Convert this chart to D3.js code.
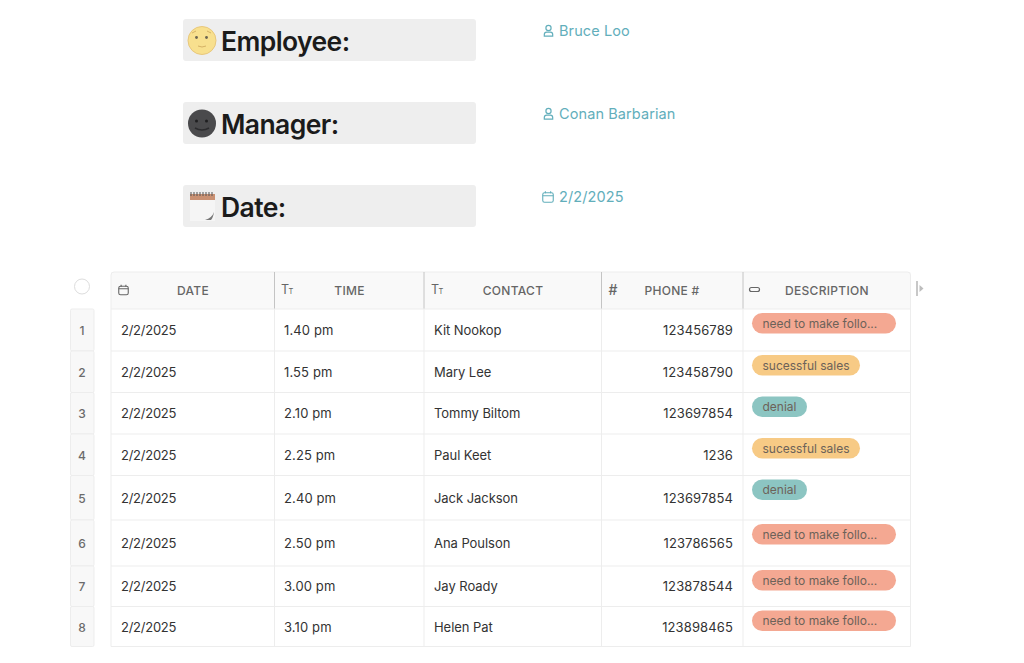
<!DOCTYPE html>
<html><head><meta charset="utf-8">
<script src="https://cdn.jsdelivr.net/npm/d3@7"></script>
<style>html,body{margin:0;padding:0;background:#fff}svg{display:block}text{font-family:Inter,"Noto Sans",sans-serif}</style>
</head><body><svg id="c" width="1024" height="663"></svg>
<script>
// ---- data
const headings = ["Employee:", "Manager:", "Date:"];
const headingValues = ["Bruce Loo", "Conan Barbarian", "2/2/2025"];
const columns = ["DATE", "TIME", "CONTACT", "PHONE #", "DESCRIPTION"];
const dates = ["2/2/2025","2/2/2025","2/2/2025","2/2/2025","2/2/2025","2/2/2025","2/2/2025","2/2/2025"];
const times = ["1.40 pm","1.55 pm","2.10 pm","2.25 pm","2.40 pm","2.50 pm","3.00 pm","3.10 pm"];
const contacts = ["Kit Nookop","Mary Lee","Tommy Biltom","Paul Keet","Jack Jackson","Ana Poulson","Jay Roady","Helen Pat"];
const phones = ["123456789","123458790","123697854","1236","123697854","123786565","123878544","123898465"];
const descriptions = ["need to make follo...","sucessful sales","denial","sucessful sales","denial","need to make follo...","need to make follo...","need to make follo..."];

// ---- layout
const colEdges = [111, 274.5, 424, 601.5, 743, 910.5];
const rowEdges = [309, 351, 392.5, 434, 475.5, 520, 566, 606.5, 646.5];
const headTop = 272;
const headerLabelX = [193, 349.5, 513, 672, 827];
const pillStyle = {
  "need to make follo...": {fill:"#f4a892", w:144},
  "sucessful sales": {fill:"#f7ca85", w:108},
  "denial": {fill:"#8cc5c2", w:55}
};
const svg = d3.select("#c");
const rows = d3.range(dates.length);
const rowIndex = d3.scaleOrdinal(rows, rowEdges.slice(0,-1));
const rowBottom = d3.scaleOrdinal(rows, rowEdges.slice(1));
const rowMid = i => (rowIndex(i)+rowBottom(i))/2;
const blockY = d3.scalePoint().domain(headings).range([19, 185]);
const line = "#ededed";

// ---- top blocks
const blocks = svg.selectAll("g.block").data(headings).join("g")
  .attr("transform", d=>`translate(0,${blockY(d)})`);
blocks.append("rect").attr("x",183).attr("width",293).attr("height",42).attr("rx",3).attr("fill","#eeeeee");
blocks.append("text").attr("x",221).attr("y",31.5).attr("font-size",26.5).attr("font-weight",600)
  .attr("letter-spacing",-0.6).attr("fill","#1b1b1b").text(d=>d);
blocks.append("text").attr("x",559).attr("y",17).attr("font-size",14.5).attr("letter-spacing",0.1)
  .attr("fill","#62aebb").text((d,i)=>headingValues[i]);

// icons in heading values
function person(g,x,y,c){
  g.append("circle").attr("cx",x).attr("cy",y-3).attr("r",2.6).attr("fill","none").attr("stroke",c).attr("stroke-width",1.2);
  g.append("path").attr("d",`M${x-4.2} ${y+5.2}v-1.6q0-2.4 2.4-2.4h3.6q2.4 0 2.4 2.4v1.6z`).attr("fill","none").attr("stroke",c).attr("stroke-width",1.2);
}
function cal(g,x,y,c,w=10.5,h=9.5){
  g.append("rect").attr("x",x-w/2).attr("y",y-h/2+.5).attr("width",w).attr("height",h).attr("rx",1.8).attr("fill","none").attr("stroke",c).attr("stroke-width",1.1);
  g.append("path").attr("d",`M${x-w/2} ${y-1.2}h${w}M${x-w/4} ${y-h/2-1}v2M${x+w/4} ${y-h/2-1}v2`).attr("stroke",c).attr("stroke-width",1.1);
}
blocks.each(function(d,i){
  const g=d3.select(this);
  if(i<2) person(g,548.5,12,"#62aebb"); else cal(g,548,12,"#62aebb");
  // emoji-like icons
  if(i===0){
    g.append("circle").attr("cx",202).attr("cy",21.5).attr("r",14).attr("fill","#f8e08e").attr("stroke","#e8c77c");
    g.append("circle").attr("cx",196.5).attr("cy",18.5).attr("r",1.4).attr("fill","#6a6350");
    g.append("circle").attr("cx",206.5).attr("cy",18.5).attr("r",1.4).attr("fill","#6a6350");
    g.append("path").attr("d","M198 27q4 2 8 0M192 14l4-2M211 14l-4-2").attr("fill","none").attr("stroke","#d5b265").attr("stroke-width",1);
  } else if(i===1){
    g.append("circle").attr("cx",202).attr("cy",21.5).attr("r",14).attr("fill","#4a4a4c");
    g.append("circle").attr("cx",196.5).attr("cy",19).attr("r",1.5).attr("fill","#1f1f20");
    g.append("circle").attr("cx",206.5).attr("cy",19).attr("r",1.5).attr("fill","#1f1f20");
    g.append("path").attr("d","M195 26q7 4 14 0").attr("fill","none").attr("stroke","#2c2c2e").attr("stroke-width",1.5);
  } else {
    g.append("rect").attr("x",190).attr("y",9).attr("width",25).attr("height",27).attr("fill","#f5f5f5");
    g.append("rect").attr("x",190).attr("y",9).attr("width",25).attr("height",6).attr("fill","#c99072");
    g.append("path").attr("d","M191 7v4M194 7v4M197 7v4M200 7v4M203 7v4M206 7v4M209 7v4M212 7v4").attr("stroke","#555").attr("stroke-width",1);
    g.append("path").attr("d","M205 35q7-2 9-8q-1 6-3 8z").attr("fill","#777");
  }
});

// ---- table header
svg.append("rect").attr("x",colEdges[0]).attr("y",headTop).attr("width",colEdges[5]-colEdges[0]).attr("height",rowEdges[0]-headTop).attr("fill","#f9f9f9");
svg.append("path").attr("d",`M${colEdges[0]} ${rowEdges[8]}V${headTop+3}q0-3 3-3H${colEdges[5]-3}q3 0 3 3V${rowEdges[8]}`).attr("fill","none").attr("stroke",line);
svg.selectAll("text.col").data(columns).join("text").attr("class","col")
  .attr("x",(d,i)=>headerLabelX[i]).attr("y",294.5).attr("text-anchor","middle")
  .attr("font-size",12).attr("font-weight",500).attr("letter-spacing",0.3).attr("fill","#666").text(d=>d);
// header separators
svg.selectAll("line.hsep").data(colEdges.slice(1,-1)).join("line")
  .attr("x1",d=>d).attr("x2",d=>d).attr("y1",headTop).attr("y2",rowEdges[0]).attr("stroke","#c4c4c4");
// header icons
const ic="#666";
cal(svg,123.5,290,ic,9.5,8.5);
[286,436].forEach(x=>{
  svg.append("text").attr("x",x-5).attr("y",294).attr("font-size",12.5).attr("fill",ic).text("T");
  svg.append("text").attr("x",x+2.5).attr("y",294).attr("font-size",7.5).attr("fill",ic).text("T");
});
svg.append("text").attr("x",613).attr("y",294.5).attr("text-anchor","middle").attr("font-size",14).attr("font-weight",500).attr("fill",ic).text("#");
svg.append("rect").attr("x",749.5).attr("y",287.5).attr("width",10).attr("height",4).attr("rx",2).attr("fill","none").attr("stroke",ic).attr("stroke-width",1.2);
svg.append("rect").attr("x",916).attr("y",281).attr("width",2).attr("height",15).attr("fill","#c8c8c8");
svg.append("path").attr("d","M919.5 285l4 3.5l-4 3.5z").attr("fill","#bdbdbd");
svg.append("circle").attr("cx",82).attr("cy",286.5).attr("r",7.5).attr("fill","#fff").attr("stroke","#dddddd");

// ---- row number gutter
svg.selectAll("rect.num").data(rows).join("rect").attr("class","num")
  .attr("x",70.5).attr("y",i=>rowIndex(i)).attr("width",23.5).attr("height",i=>rowBottom(i)-rowIndex(i))
  .attr("rx",1.5).attr("fill","#f8f8f8").attr("stroke",line);
svg.selectAll("text.num").data(rows).join("text").attr("class","num")
  .attr("x",82).attr("y",i=>rowMid(i)+5).attr("text-anchor","middle").attr("font-size",12).attr("font-weight",500).attr("fill","#6b6b6b").text(i=>i+1);

// ---- grid
svg.selectAll("line.rowl").data(rows).join("line").attr("class","rowl")
  .attr("x1",colEdges[0]).attr("x2",colEdges[5]).attr("y1",i=>rowBottom(i)).attr("y2",i=>rowBottom(i)).attr("stroke",line);
svg.append("line").attr("x1",colEdges[0]).attr("x2",colEdges[5]).attr("y1",rowEdges[0]).attr("y2",rowEdges[0]).attr("stroke",line);
svg.selectAll("line.coll").data(colEdges.slice(1,-1)).join("line").attr("class","coll")
  .attr("x1",d=>d).attr("x2",d=>d).attr("y1",rowEdges[0]).attr("y2",rowEdges[8]).attr("stroke",line);

// ---- cells
const cell = (arr,x,anchor,ls)=>svg.append("g").selectAll("text").data(arr).join("text")
  .attr("x",x).attr("y",(d,i)=>rowMid(i)+5).attr("text-anchor",anchor)
  .attr("font-size",13).attr("letter-spacing",ls).attr("fill","#333").text(d=>d);
cell(dates,121,"start",-0.25); cell(times,284,"start",0.12); cell(contacts,434,"start",-0.05); cell(phones,733,"end",0.12);

const pills = svg.append("g").selectAll("g").data(descriptions).join("g")
  .attr("transform",(d,i)=>`translate(752,${rowIndex(i)+4})`);
pills.append("rect").attr("width",d=>pillStyle[d].w).attr("height",20.5).attr("rx",10.25).attr("fill",d=>pillStyle[d].fill);
pills.append("text").attr("x",10.5).attr("y",14.5).attr("font-size",12).attr("letter-spacing",0).attr("fill","#6c6259").text(d=>d);
</script></body></html>
